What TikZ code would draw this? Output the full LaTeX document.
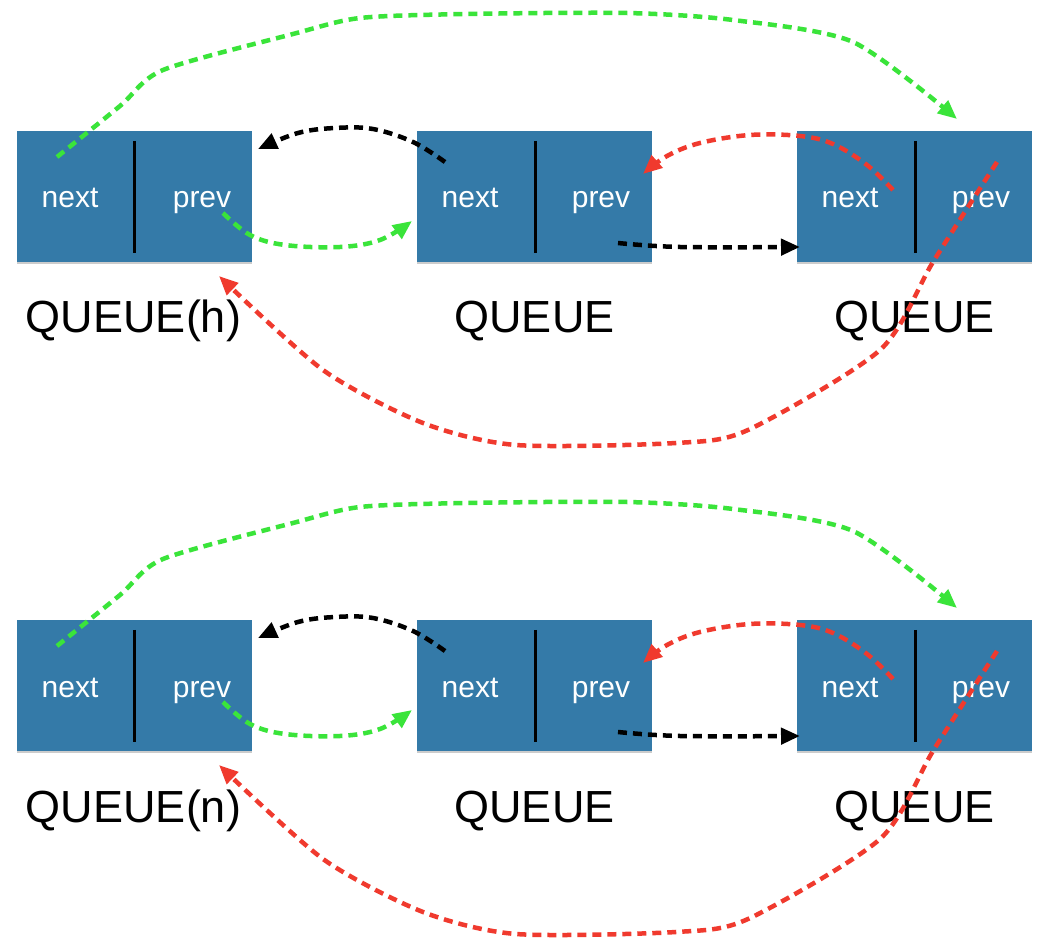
\documentclass[tikz,border=0pt]{standalone}
\usepackage{fontspec}
\setmainfont{Liberation Sans}
\usetikzlibrary{arrows.meta,shadows}
\definecolor{boxblue}{RGB}{52,122,168}
\definecolor{ptrgreen}{RGB}{58,228,58}
\definecolor{ptrred}{RGB}{240,58,46}
\tikzset{
  qbox/.style={fill=boxblue, minimum width=235pt, minimum height=131pt, inner sep=0pt,
    drop shadow={shadow xshift=0pt, shadow yshift=-2pt, opacity=0.2, fill=black}},
  divline/.style={line width=2.8pt, black},
  fieldtxt/.style={text=white, font=\fontsize{30}{30}\selectfont, anchor=base, inner sep=0pt},
  qcap/.style={font=\fontsize{45}{45}\selectfont, anchor=base, inner sep=0pt},
  ptr/.style={line width=4.5pt, dash pattern=on 9pt off 6pt, -{Triangle[length=19pt,width=16pt]}},
  gptr/.style={ptr, ptrgreen},
  rptr/.style={ptr, ptrred},
  kptr/.style={ptr, black},
}
\newcommand\qrow[3]{%
\begin{scope}[shift={(0,#3)}]
  \node[qbox] (a#1) at (134.5,196.5) {};
  \node[qbox] (b#1) at (534.5,196.5) {};
  \node[qbox] (c#1) at (914.5,196.5) {};
  \draw[divline] ([yshift=-10pt]a#1.north) -- ([yshift=9pt]a#1.south);
  \draw[divline] ([xshift=1pt,yshift=-10pt]b#1.north) -- ([xshift=1pt,yshift=9pt]b#1.south);
  \draw[divline] ([xshift=1pt,yshift=-10pt]c#1.north) -- ([xshift=1pt,yshift=9pt]c#1.south);
  \node[fieldtxt] (an#1) at (70,208) {next};
  \node[fieldtxt] (ap#1) at (202,208) {prev};
  \node[fieldtxt] (bn#1) at (470,208) {next};
  \node[fieldtxt] (bp#1) at (601,208) {prev};
  \node[fieldtxt] (cn#1) at (850,208) {next};
  \node[fieldtxt] (cp#1) at (981,208) {prev};
  \node[qcap] (al#1) at (133.5,333) {#2};
  \node[qcap] (bl#1) at (534.5,333) {QUEUE};
  \node[qcap] (cl#1) at (914.5,333) {QUEUE};
  % pointer end points
  \coordinate (gts#1) at (57,157);   \coordinate (gte#1) at (957,119);
  \coordinate (kts#1) at (445,162);  \coordinate (kte#1) at (258,149);
  \coordinate (gss#1) at (223,213);  \coordinate (gse#1) at (412,221);
  \coordinate (kbs#1) at (618,243);  \coordinate (kbe#1) at (800,247);
  \coordinate (rts#1) at (893,190);  \coordinate (rte#1) at (643,174);
  \coordinate (rbs#1) at (997,162);  \coordinate (rbe#1) at (219,276);
  \draw[gptr] plot[smooth, tension=0.45] coordinates {(gts#1) (120,106) (163,70) (293,34) (360,18) (467,14) (627,13) (733,20) (853,42) (gte#1)};
  \draw[kptr] plot[smooth, tension=0.6] coordinates {(kts#1) (413,142) (373,129) (335,128) (298,133) (kte#1)};
  \draw[gptr] plot[smooth, tension=0.6] coordinates {(gss#1) (250,235) (285,245) (340,247) (380,240) (gse#1)};
  \draw[kptr] plot[smooth, tension=0.6] coordinates {(kbs#1) (680,247) (kbe#1)};
  \draw[rptr] plot[smooth, tension=0.6] coordinates {(rts#1) (867,165) (833,144) (800,136) (750,135) (700,143) (667,156) (rte#1)};
  \draw[rptr] plot[smooth, tension=0.45] coordinates {(rbs#1) (933,262) (880,350) (748,430) (676,443) (516,445) (423,423) (323,370) (rbe#1)};
\end{scope}}
\begin{document}
\begin{tikzpicture}[x=1pt,y=-1pt]
  \useasboundingbox[fill=white] (0,0) rectangle (1045,949);
  \qrow{h}{QUEUE(h)}{0}
  \qrow{n}{QUEUE(n)}{489}
\end{tikzpicture}
\end{document}
